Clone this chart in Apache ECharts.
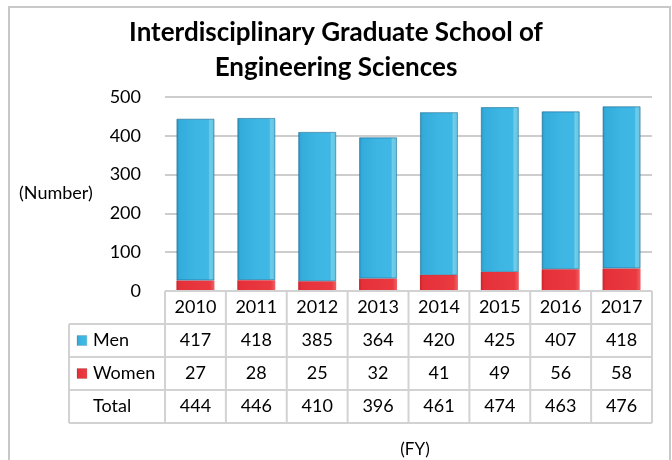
<!DOCTYPE html>
<html>
<head>
<meta charset="utf-8">
<script src="https://cdn.jsdelivr.net/npm/echarts@6/dist/echarts.min.js"></script>
<style>
  html, body { margin: 0; padding: 0; background: #fff; }
  #chart { width: 672px; height: 460px; }
</style>
</head>
<body>
<div id="chart"></div>
<script>
// data
const years = ['2010', '2011', '2012', '2013', '2014', '2015', '2016', '2017'];
const men = [417, 418, 385, 364, 420, 425, 407, 418];
const women = [27, 28, 25, 32, 41, 49, 56, 58];
const total = [444, 446, 410, 396, 461, 474, 463, 476];
const yTicks = [0, 100, 200, 300, 400, 500];

const FONT = 'Lato, "Open Sans", sans-serif';
const GRID = { left: 165, right: 20, top: 97, bottom: 169 };
const ROW_H = 33;
const LINE = '#d2d2d2';

const blueFill = {
  type: 'linear', x: 0, y: 0, x2: 1, y2: 0,
  colorStops: [
    { offset: 0, color: '#2b93c2' },
    { offset: 0.08, color: '#34acdb' },
    { offset: 0.5, color: '#3db6e4' },
    { offset: 0.84, color: '#3fb8e5' },
    { offset: 0.88, color: '#72cde9' },
    { offset: 1, color: '#5cc3e4' },
  ],
};
const redFill = {
  type: 'linear', x: 0, y: 0, x2: 1, y2: 0,
  colorStops: [
    { offset: 0, color: '#c8262c' },
    { offset: 0.08, color: '#e5303a' },
    { offset: 0.88, color: '#ea3a40' },
    { offset: 1, color: '#f06066' },
  ],
};

const chart = echarts.init(document.getElementById('chart'));

// table rows drawn as extra category axes under the grid
const tableRows = [years, men, women, total];
const xAxes = tableRows.map((row, k) => ({
  type: 'category',
  data: years,
  gridIndex: 0,
  position: 'bottom',
  offset: k * ROW_H,
  axisLine: { show: false },
  axisTick: { show: false },
  splitLine: { show: false },
  axisLabel: {
    interval: 0,
    margin: 16,
    verticalAlign: 'middle',
    fontFamily: FONT,
    fontSize: 18,
    color: '#000',
    formatter: (v, i) => String(row[i]),
  },
}));

const option = {
  animation: false,
  backgroundColor: '#fff',
  title: {
    text: 'Interdisciplinary Graduate School of\nEngineering Sciences',
    left: 331,
    textAlign: 'center',
    top: 10,
    textStyle: { fontFamily: FONT, fontWeight: 'bold', fontSize: 26, lineHeight: 35, color: '#000' },
  },
  grid: GRID,
  xAxis: xAxes,
  yAxis: {
    type: 'value',
    min: yTicks[0],
    max: yTicks[yTicks.length - 1],
    interval: 100,
    axisLine: { show: false },
    axisTick: { show: false },
    axisLabel: { margin: 24, fontFamily: FONT, fontSize: 18, color: '#000' },
    splitLine: { lineStyle: { color: '#bdbdbd', width: 1.5 } },
  },
  series: [
    {
      name: 'Women', type: 'bar', stack: 'all', xAxisIndex: 0,
      data: women, barWidth: 38,
      itemStyle: { color: redFill },
    },
    {
      name: 'Men', type: 'bar', stack: 'all', xAxisIndex: 0,
      data: men, barWidth: 38,
      itemStyle: { color: blueFill, borderColor: 'rgba(30,110,150,0.35)', borderWidth: 1 },
    },
  ],
};
chart.setOption(option);

// table frame, row headers and surrounding text
const W = chart.getWidth(), H = chart.getHeight();
const x0 = GRID.left, x1 = W - GRID.right;
const y0 = H - GRID.bottom;
const colW = (x1 - x0) / years.length;
const legendX = 69;
const g = [];
const line = (ax, ay, bx, by) => g.push({
  type: 'line', silent: true, z: 10,
  shape: { x1: ax, y1: ay, x2: bx, y2: by },
  style: { stroke: LINE, lineWidth: 2 },
});
for (let r = 0; r <= 4; r++) {
  const y = y0 + r * ROW_H;
  line(r <= 0 ? x0 : legendX, y, x1, y);
}
for (let j = 0; j <= years.length; j++) {
  line(x0 + j * colW, y0, x0 + j * colW, y0 + 4 * ROW_H);
}
line(legendX, y0 + ROW_H, legendX, y0 + 4 * ROW_H);

const rowLabels = [['Men', blueFill], ['Women', redFill], ['Total', null]];
rowLabels.forEach(([name, fill], k) => {
  const cy = y0 + (k + 1.5) * ROW_H;
  if (fill) {
    g.push({ type: 'rect', silent: true, z: 10, shape: { x: 77, y: cy - 5, width: 10, height: 10 },
      style: { fill: fill, stroke: 'rgba(0,0,0,0.25)', lineWidth: 0.5 } });
  }
  g.push({ type: 'text', silent: true, z: 10, x: 93, y: cy,
    style: { text: name, fontFamily: FONT, fontSize: 18, fill: '#000', verticalAlign: 'middle' } });
});

g.push({ type: 'text', silent: true, x: 19, y: 193,
  style: { text: '(Number)', fontFamily: FONT, fontSize: 18, fill: '#000', verticalAlign: 'middle' } });
g.push({ type: 'text', silent: true, x: 415, y: 450,
  style: { text: '(FY)', fontFamily: FONT, fontSize: 17, fill: '#000', align: 'center', verticalAlign: 'middle' } });
g.push({ type: 'rect', silent: true, z: -1, shape: { x: 9, y: 7, width: 661, height: 470 },
  style: { fill: null, stroke: '#c8c8c8', lineWidth: 2 } });

chart.setOption({ graphic: g });
</script>
</body>
</html>
